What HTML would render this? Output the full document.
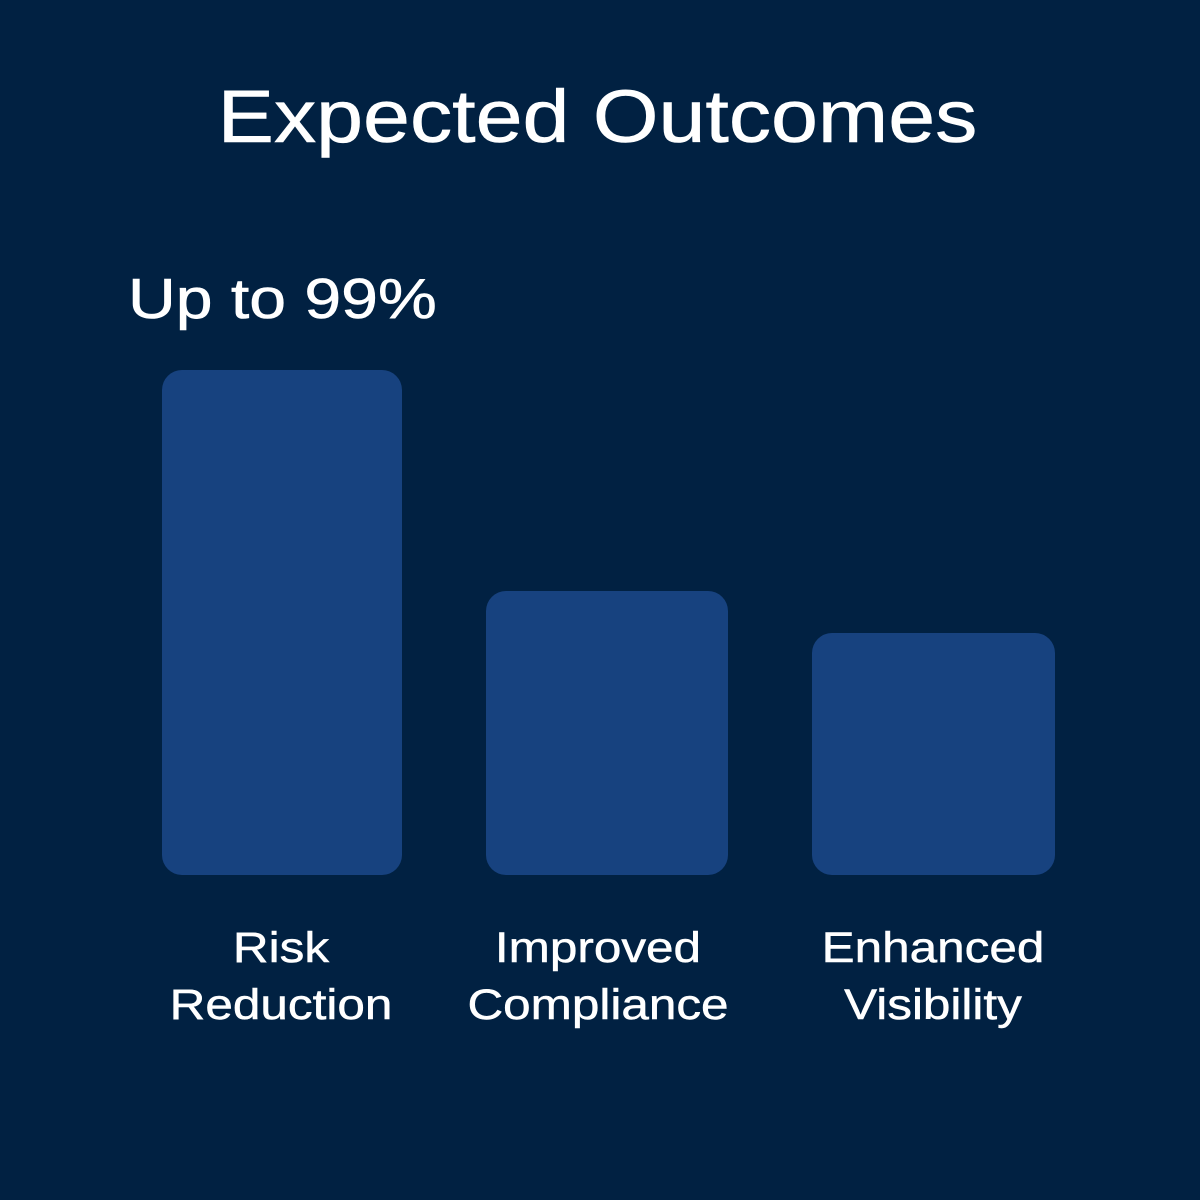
<!DOCTYPE html>
<html><head><style>
body{margin:0;width:1200px;height:1200px;background:#012142;font-family:"Liberation Sans",sans-serif;color:#fff;position:relative;overflow:hidden}
.t{position:absolute;white-space:nowrap;-webkit-text-stroke:0.6px #fff}
.bar{position:absolute;background:#17427f;border-radius:20px}
.lab{position:absolute;text-align:center;font-size:43px;line-height:57px;width:320px;top:920px;transform:scaleX(1.15);-webkit-text-stroke:0.5px #fff}
</style></head><body>
<div class="t" style="left:0;width:1195px;text-align:center;top:72px;font-size:74px;line-height:90px;transform:scaleX(1.14)">Expected Outcomes</div>
<div class="t" style="left:128px;top:264px;font-size:57px;line-height:70px;transform:scaleX(1.16);transform-origin:0 0">Up to 99%</div>
<div class="bar" style="left:162px;top:370px;width:240px;height:505px"></div>
<div class="bar" style="left:486px;top:591px;width:242px;height:284px"></div>
<div class="bar" style="left:812px;top:633px;width:243px;height:242px"></div>
<div class="lab" style="left:121px">Risk<br>Reduction</div>
<div class="lab" style="left:438px">Improved<br>Compliance</div>
<div class="lab" style="left:773px">Enhanced<br>Visibility</div>
</body></html>
